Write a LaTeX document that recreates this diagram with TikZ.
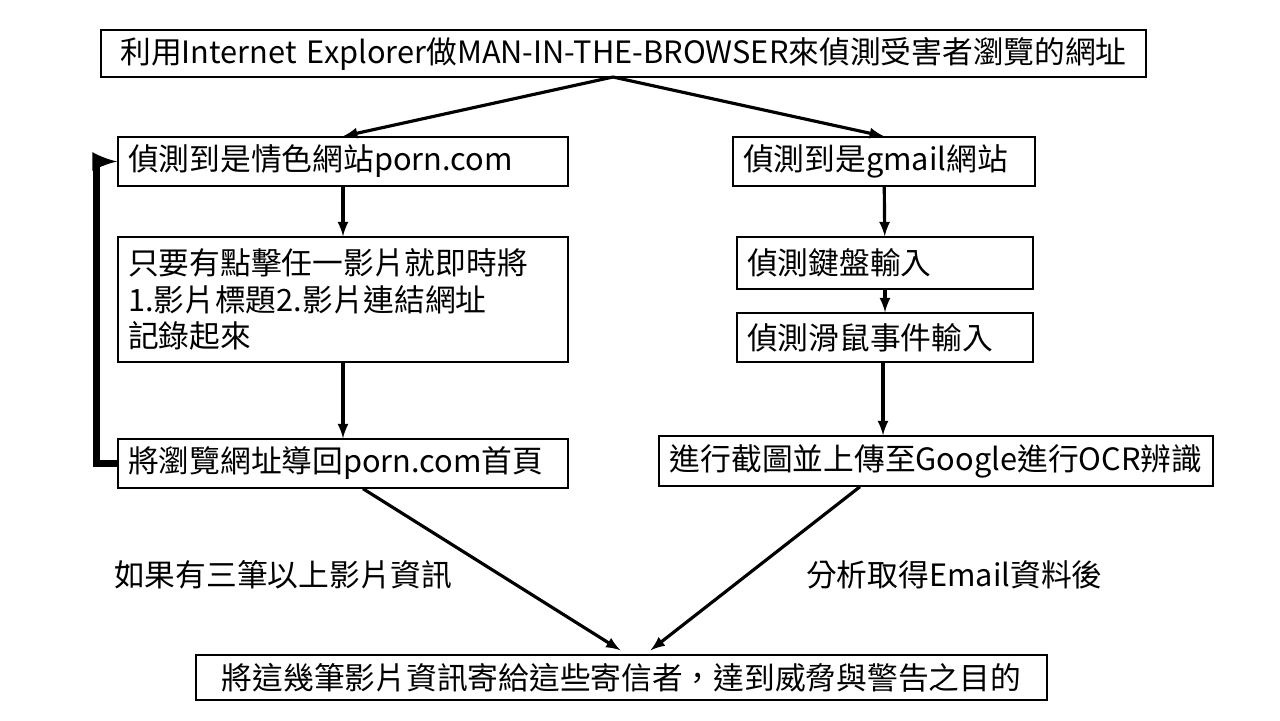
\documentclass[tikz,border=0pt]{standalone}
\usepackage{fontspec}
\setmainfont{Noto Sans CJK TC}
\usetikzlibrary{calc}

\tikzset{
  box/.style={draw, line width=0.8pt, inner xsep=0.2cm, inner ysep=0pt, align=left,
    font=\fontsize{17.5}{21}\selectfont},
  lbl/.style={font=\fontsize{17.5}{21}\selectfont, anchor=west},
  flow/.style={-latex, line width=1.8pt},
  back/.style={-latex, line width=3.8pt, line join=miter}
}

\begin{document}
\begin{tikzpicture}[x=0.02cm,y=-0.02cm]
  \useasboundingbox (0,0) rectangle (1280,720);

  % top
  \node[box, text width=20.5cm, minimum height=0.94cm, align=center] (top) at (623.5,53.5)
    {利用Internet Explorer做MAN-IN-THE-BROWSER來偵測受害者瀏覽的網址};

  % left branch
  \node[box, text width=8.6cm, minimum height=0.98cm] (L1) at (343,161.5) {偵測到是情色網站porn.com};
  \node[box, text width=8.6cm, minimum height=2.5cm] (L2) at (343,299.5)
    {只要有點擊任一影片就即時將\\1.影片標題2.影片連結網址\\記錄起來};
  \node[box, text width=8.6cm, minimum height=0.98cm] (L3) at (343,463.5) {將瀏覽網址導回porn.com首頁};

  % right branch
  \node[box, text width=5.64cm, minimum height=0.98cm] (R1) at (884,161.5) {偵測到是gmail網站};
  \node[box, text width=5.52cm, minimum height=1.04cm] (R2) at (885,263) {偵測鍵盤輸入};
  \node[box, text width=5.52cm, minimum height=0.98cm] (R3) at (885,337.5) {偵測滑鼠事件輸入};
  \node[box, text width=10.68cm, minimum height=1cm, align=center] (R4) at (936,461)
    {進行截圖並上傳至Google進行OCR辨識};

  % bottom
  \node[box, text width=16.62cm, minimum height=0.9cm, align=center] (bot) at (621.5,677.5)
    {將這幾筆影片資訊寄給這些寄信者，達到威脅與警告之目的};

  \node[lbl] (c1) at (108,575) {如果有三筆以上影片資訊};
  \node[lbl] (c2) at (800,575) {分析取得Email資料後};

  \coordinate (split) at (613,77);
  \draw[flow] (split) -- (L1.north);
  \draw[flow] (split) -- (R1.north);

  \draw[flow] (L1) -- (L2);
  \draw[flow] (L2) -- (L3);
  \draw[back] (L3.west) -- ++(-21,0) |- (L1.west);

  \draw[flow] (R1) -- (R2);
  \draw[flow] (R2) -- (R3);
  \draw[flow] ($(R3.south)+(-2,0)$) -- ($(R4.north)+(-53,0)$);

  \draw[flow] ($(L3.south)+(20,0)$) -- ($(bot.north)+(-1,-4)$);
  \draw[flow] ($(R4.south)+(-76,0)$) -- ($(bot.north)+(29,-4)$);
\end{tikzpicture}
\end{document}
